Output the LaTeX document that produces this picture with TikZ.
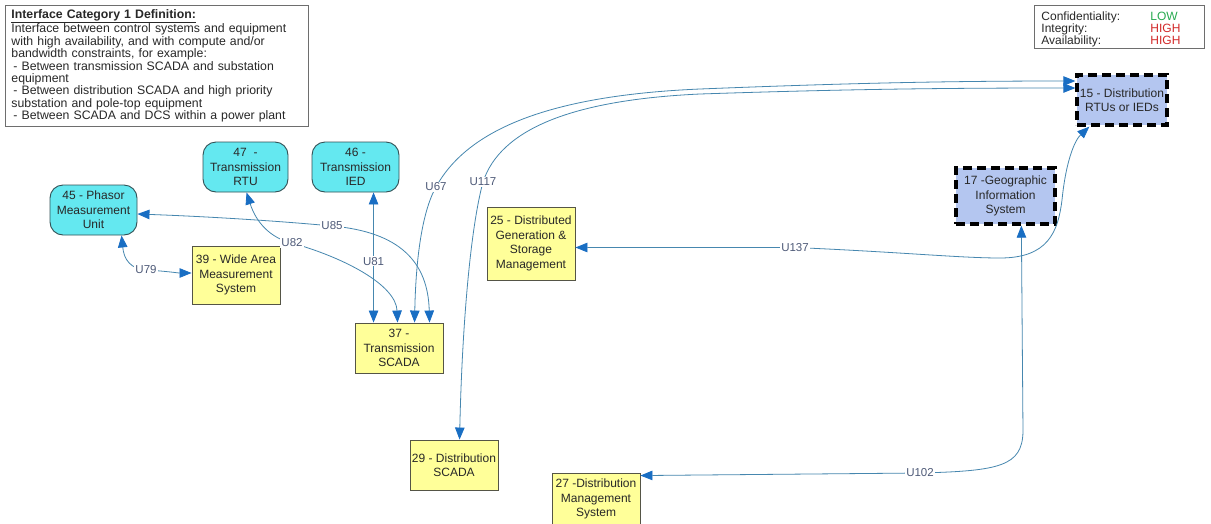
\documentclass[tikz,border=0pt]{standalone}
\usepackage{fontspec}
\setmainfont{Liberation Sans}
\usetikzlibrary{arrows.meta,calc}
\definecolor{txt}{RGB}{40,40,40}
\definecolor{cyanfill}{RGB}{100,232,240}
\definecolor{cyanedge}{RGB}{50,80,85}
\definecolor{yelfill}{RGB}{255,255,153}
\definecolor{yeledge}{RGB}{85,85,70}
\definecolor{bluefill}{RGB}{180,198,240}
\definecolor{linecol}{RGB}{70,135,175}
\definecolor{tipcol}{RGB}{25,110,195}
\definecolor{lblcol}{RGB}{78,90,120}
\definecolor{boxedge}{RGB}{110,110,110}
\definecolor{lowcol}{RGB}{40,170,80}
\definecolor{highcol}{RGB}{210,40,40}
\tikzset{
  nodefont/.style={font=\fontsize{12}{14.5}\selectfont, text=txt, align=center, inner sep=0pt},
  roundbox/.style={nodefont, draw=cyanedge, line width=0.9pt, fill=cyanfill, rounded corners=13pt, minimum height=50pt},
  yelbox/.style={nodefont, draw=yeledge, line width=0.9pt, fill=yelfill, minimum width=88pt, minimum height=50pt},
  gisbox/.style={nodefont, draw=black, line width=3.3pt, dash pattern=on 9pt off 5pt, fill=bluefill},
  conn/.style={draw=linecol, line width=0.8pt,
    arrows={Triangle[length=12pt,width=9.5pt,color=tipcol]-Triangle[length=12pt,width=9.5pt,color=tipcol]}},
  lbl/.style={font=\fontsize{11.5}{13}\selectfont, text=lblcol, fill=white, inner sep=1pt},
  infobox/.style={draw=boxedge, line width=0.9pt, fill=white, align=left, text=txt}
}
\begin{document}
\begin{tikzpicture}[x=1pt,y=-1pt]
\useasboundingbox[fill=white] (0,0) rectangle (1211,523);

% definition box
\node[infobox, minimum width=303pt, minimum height=120pt, anchor=north west,
      inner xsep=6pt, inner ysep=4pt, text width=291pt,
      font=\fontsize{12.3}{12.4}\selectfont] (def) at (5,5)
  {\textbf{\underline{Interface Category 1 Definition:}}\\
   Interface between control systems and equipment\\
   with high availability, and with compute and/or\\
   bandwidth constraints, for example:\\
   \hspace*{2pt}- Between transmission SCADA and substation\\
   equipment\\
   \hspace*{2pt}- Between distribution SCADA and high priority\\
   substation and pole-top equipment\\
   \hspace*{2pt}- Between SCADA and DCS within a power plant};

% security legend
\node[infobox, minimum width=170pt, minimum height=43pt, anchor=north west,
      inner xsep=7pt, inner ysep=3pt, text width=156pt,
      font=\fontsize{12}{12}\selectfont] (cia) at (1034,5)
  {\raisebox{-3pt}[\height][\depth]{\begin{tabular}{@{}p{109pt}@{}l@{}}
    Confidentiality: & \textcolor{lowcol}{LOW}\\
    Integrity: & \textcolor{highcol}{HIGH}\\
    Availability: & \textcolor{highcol}{HIGH}
   \end{tabular}}};

% equipment nodes
\node[roundbox, minimum width=85pt] (n47) at (245.5,167) {47\ \ -\\Transmission\\RTU};
\node[roundbox, minimum width=87pt] (n46) at (355.5,167) {46 -\\Transmission\\IED};
\node[roundbox, minimum width=87pt] (n45) at (93.5,210) {45 - Phasor\\Measurement\\Unit};

% system nodes
\node[yelbox, minimum height=58pt] (n39) at (236,275) {39 - Wide Area\\Measurement\\System};
\node[yelbox] (n37) at (399,348) {37 -\\Transmission\\SCADA};
\node[yelbox, minimum height=73pt] (n25) at (531,243.5) {25 - Distributed\\Generation \&\\Storage\\Management};
\node[yelbox] (n29) at (454,465) {29 - Distribution\\SCADA};
\node[yelbox, minimum height=52pt] (n27) at (596,499) {27 -Distribution\\Management\\System};
\node[gisbox, minimum width=99pt, minimum height=56pt] (n17) at (1005.5,196) {17 -Geographic\\Information\\System};
\node[gisbox, minimum width=90pt, minimum height=50pt] (n15) at (1122,100) {15 - Distribution\\RTUs or IEDs};

% interfaces
\draw[conn] ($(n45.south west)+(72,0)$) .. controls (124,260) and (131,269) .. (146,270) node[lbl] (u79) {U79}
  .. controls (165,271) and (178,273) .. ($(n39.west)+(0,-2)$);

\draw[conn] ($(n47.south west)+(44,0)$) .. controls (256,222) and (270,238) .. (292,243) node[lbl] (u82) {U82}
  .. controls (345,258) and (396,285) .. ($(n37.north west)+(43,0)$);

\draw[conn] ($(n45.east)+(0,4)$) .. controls (220,217) and (290,222) .. (332,226) node[lbl] (u85) {U85}
  .. controls (400,232) and (428,262) .. ($(n37.north west)+(75,0)$);

\draw[conn] ($(n46.south west)+(62,0)$) -- ($(n37.north west)+(19,0)$) node[lbl, pos=0.53] (u81) {U81};

\draw[conn] ($(n37.north west)+(60,0)$) .. controls (416,250) and (424,208) .. (436,187) node[lbl] (u67) {U67}
  .. controls (470,125) and (560,95) .. (700,89) .. controls (850,83) and (950,81) .. ($(n15.west)+(0,-19)$);

\draw[conn] ($(n29.north west)+(50,0)$) .. controls (462,330) and (470,230) .. (483,182) node[lbl] (u117) {U117}
  .. controls (500,130) and (570,100) .. (700,94) .. controls (850,89) and (950,88) .. ($(n15.west)+(0,-12)$);

\draw[conn] ($(n25.east)+(0,4)$) -- (795,247.5) node[lbl] (u137) {U137}
  .. controls (900,252) and (960,258) .. (1000,258) .. controls (1048,258) and (1058,232) .. (1062,200)
  .. controls (1066,160) and (1075,140) .. ($(n15.south west)+(14,0)$);

\draw[conn] ($(n27.north east)+(0,3)$) -- (920,473) node[lbl] (u102) {U102}
  .. controls (1000,471) and (1022,466) .. (1023,432) -- ($(n17.south west)+(67,0)$);
\end{tikzpicture}
\end{document}
